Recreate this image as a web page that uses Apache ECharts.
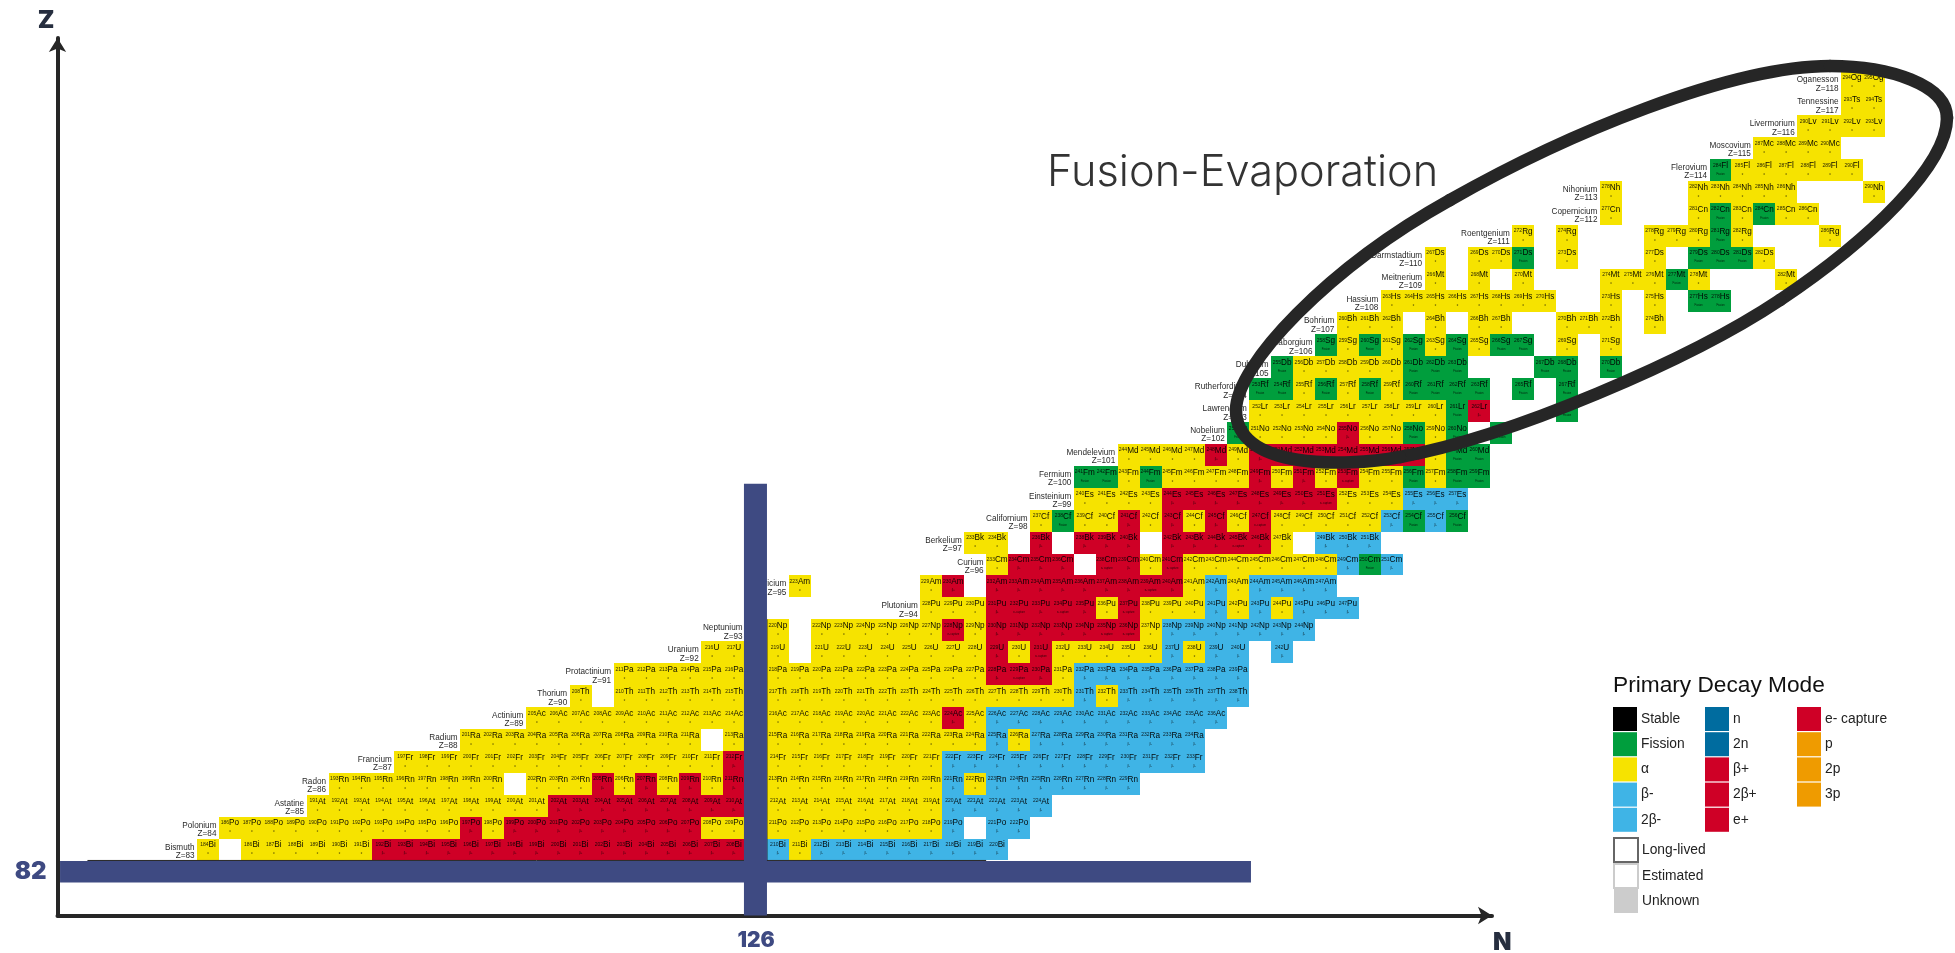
<!DOCTYPE html>
<html><head><meta charset="utf-8">
<style>html,body{margin:0;padding:0;background:#fff}#c{width:1955px;height:953px}</style>
<script src="https://cdn.jsdelivr.net/npm/echarts@6/dist/echarts.min.js"></script>
</head><body><div id="c"></div>
<script>
// ---- data ----
const protonNumbers = [83,84,85,86,87,88,89,90,91,92,93,94,95,96,97,98,99,100,101,102,103,104,105,106,107,108,109,110,111,112,113,114,115,116,117,118];
const elementNames = ['Bismuth','Polonium','Astatine','Radon','Francium','Radium','Actinium','Thorium','Protactinium','Uranium','Neptunium','Plutonium','Americium','Curium','Berkelium','Californium','Einsteinium','Fermium','Mendelevium','Nobelium','Lawrencium','Rutherfordium','Dubnium','Seaborgium','Bohrium','Hassium','Meitnerium','Darmstadtium','Roentgenium','Copernicium','Nihonium','Flerovium','Moscovium','Livermorium','Tennessine','Oganesson'];
const elementSymbols = ['Bi','Po','At','Rn','Fr','Ra','Ac','Th','Pa','U','Np','Pu','Am','Cm','Bk','Cf','Es','Fm','Md','No','Lr','Rf','Db','Sg','Bh','Hs','Mt','Ds','Rg','Cn','Nh','Fl','Mc','Lv','Ts','Og'];
const firstMass = [184,186,191,193,197,201,205,208,211,216,219,228,223,233,233,237,240,241,244,250,252,253,255,258,260,263,266,267,272,277,278,284,287,290,293,294];
// run-length decay runs, one per element, from firstMass upward:
// a=alpha f=fission p=beta+ e=e- capture m=beta- .=no cell
const decayRuns = [
 'a . a6 p17 . m a m9','a11 p a p9 a2 . a8 m . m2','a11 p9 . a8 m5','a8 . a3 p a p a p a p . a8 m a m7','a15 p . a8 m12','a11 . a . a10 m a m8','a10 . a8 p a m11','a . a6 . a14 m a m6','a6 . a10 p e p a m8','a2 . a . a8 p a e a5 m a m2 . m','. a . a6 e a p5 e2 a m7','a3 p e p e p a e a3 m a m a m3','a .5 a p . p7 e p a m a m4','a p3 . e p a e a7 m f m','a2 . p . p3 . p3 e p a . m3','a f a2 p a p a p a e a5 m f m f','a4 p7 e a3 m3','f2 a f a4 p a p a e a2 f a f2','a4 p a p7 e a f2','f a4 p a2 f a f . f','a9 f p .3 f','f2 a f a f a f4 . f . f','f a5 f3 .3 f2 . f','f a f a f a f a f2 . a . a','a3 . a . a2 .2 a3 . a','a8 .2 a . a . f2','a . a . a .3 a3 f a .3 a','a . a2 f . a .3 a . f3 a','a . a .3 a3 f a .3 a','a .3 a f a f a2','a .3 a5 .3 a','f a6','a4','a4','a2','a2'
];
const legendColumn1 = ['Stable','Fission','α','β-','2β-'];
const legendColumn2 = ['n','2n','β+','2β+','e+'];
const legendColumn3 = ['e- capture','p','2p','3p'];
const legendColumn4 = ['Long-lived','Estimated','Unknown'];
const modeColors = {'Stable':'#000000','Fission':'#009e3d','α':'#f6e300','β-':'#3fb4e6','2β-':'#3fb4e6','n':'#006c9f','2n':'#006c9f','β+':'#cf0026','2β+':'#cf0026','e+':'#cf0026','e- capture':'#cf0026','p':'#ef9b00','2p':'#ef9b00','3p':'#ef9b00','Long-lived':'#ffffff','Estimated':'#ffffff','Unknown':'#cccccc'};
const runCodes = {a:'α',f:'Fission',p:'β+',e:'e- capture',m:'β-'};
const magicN = 126, magicZ = 82;
const bandN = [125.45,126.5], bandNZ = [79.99,99.68];
const bandZ = [81.5,82.48], bandZN = [94.25,148.58];
const cellsByMode = {};
[].concat(legendColumn1,legendColumn2,legendColumn3,legendColumn4).forEach(m=>cellsByMode[m]=[]);
protonNumbers.forEach((Z,i)=>{
  let A = firstMass[i];
  decayRuns[i].split(' ').forEach(tok=>{
    const c = tok[0], n = tok.length>1 ? +tok.slice(1) : 1;
    for(let k=0;k<n;k++,A++){
      if(c!=='.') cellsByMode[runCodes[c]].push([A-Z,Z,A,elementSymbols[i],runCodes[c]]);
    }
  });
});
const measureCtx = document.createElement('canvas').getContext('2d');
function textWidth(t,size){ measureCtx.font = size+'px "Liberation Sans"'; return measureCtx.measureText(t).width; }
const massSize = 5, symbolSize = 8.2;
function renderCell(color){
  return function(params,api){
    const n=api.value(0), z=api.value(1), a=api.value(2);
    const row=cellsByMode[params.seriesName][params.dataIndex];
    const p0=api.coord([n-0.5,z+0.5]), p1=api.coord([n+0.5,z-0.5]);
    const x0=Math.round(p0[0]),x1=Math.round(p1[0]),y0=Math.round(p0[1]),y1=Math.round(p1[1]);
    const cx=(p0[0]+p1[0])/2, h=p1[1]-p0[1];
    const mw=textWidth(String(a),massSize), sw=textWidth(row[3],symbolSize);
    const jx=cx-(mw+sw)/2+mw;
    const ty=p0[1]+h*0.3;
    return {type:'group',children:[
      {type:'rect',shape:{x:x0,y:y0,width:x1-x0,height:y1-y0},style:{fill:color}},
      {type:'text',style:{text:String(a),x:jx,y:ty-0.4,align:'right',verticalAlign:'middle',fontSize:massSize,fontFamily:'Liberation Sans',fill:'rgba(0,0,0,.85)'}},
      {type:'text',style:{text:row[3],x:jx,y:ty,align:'left',verticalAlign:'middle',fontSize:symbolSize,fontFamily:'Liberation Sans',fill:'rgba(0,0,0,.95)'}},
      {type:'text',style:{text:row[4],x:cx,y:p0[1]+h*0.69,align:'center',verticalAlign:'middle',fontSize:2.6,fontFamily:'Liberation Sans',fill:'rgba(0,0,0,.8)'}}
    ]};
  };
}
const modeSeries = Object.keys(cellsByMode).map(name=>({
  name,type:'custom',z:2,silent:true,itemStyle:{color:modeColors[name]},data:cellsByMode[name],encode:{x:0,y:1},renderItem:renderCell(modeColors[name])
}));
const labelData = protonNumbers.map((Z,i)=>[firstMass[i]-Z,Z,elementNames[i]]);
const labelSeries = {
  type:'custom',z:3,silent:true,data:labelData,encode:{x:0,y:1},
  renderItem:(params,api)=>{
    const p=api.coord([api.value(0)-0.5,api.value(1)]);
    const name=labelData[params.dataIndex][2];
    return {type:'text',style:{text:name+'\nZ='+api.value(1),x:p[0]-2.5,y:p[1]+2,align:'right',verticalAlign:'middle',
      fontSize:8.2,lineHeight:8.4,fontFamily:'Liberation Sans',fill:'#2a2a2a'}};
  }
};
const outline1 = {type:'line',z:4,silent:true,symbol:'none',lineStyle:{color:'#222',width:1},data:[[95.5,82.5],[136.5,82.5]]};
const outline2 = {type:'line',z:4,silent:true,symbol:'none',lineStyle:{color:'#222',width:1},data:[[126.5,82.5],[126.5,93.5]]};
const bandData = [[bandN[0],bandNZ[1],bandN[1],bandNZ[0]],[bandZN[0],bandZ[1],bandZN[1],bandZ[0]]];
const bandSeries = {
  type:'custom',z:5,silent:true,data:bandData,encode:{x:[0,2],y:[1,3]},
  renderItem:(params,api)=>{
    const a=api.coord([api.value(0),api.value(1)]),b=api.coord([api.value(2),api.value(3)]);
    return {type:'rect',shape:{x:a[0],y:a[1],width:b[0]-a[0],height:b[1]-a[1]},style:{fill:'#3e4a82'}};
  }
};
const ringSegments=[
 [1236,410,1236,365,1328,268,1450,200],
 [1450,200,1566,134,1730,66,1830,66],
 [1830,66,1890,66,1947,85,1947,118],
 [1947,118,1947,165,1870,240,1780,300],
 [1780,300,1690,360,1510,437,1400,457],
 [1400,457,1345,467,1236,470,1236,410]
];
function legendOf(list,left,top,gap){
  return {show:true,orient:'vertical',left,top,icon:'rect',itemWidth:24,itemHeight:24,itemGap:gap,selectedMode:false,padding:0,
    data:list.map(name=>{
      const d={name};
      if(name==='Long-lived') d.itemStyle={color:'#fff',borderColor:'#666',borderWidth:2};
      else if(name==='Estimated') d.itemStyle={color:'#fff',borderColor:'#ccc',borderWidth:2};
      return d;
    }),
    textStyle:{fontFamily:'Liberation Sans',fontSize:13.8,color:'#222',padding:[0,0,0,-1]}};
}
const chart = echarts.init(document.getElementById('c'),null,{renderer:'canvas'});
chart.setOption({
  animation:false,
  backgroundColor:'#fff',
  title:[
    {text:'Fusion-Evaporation',left:1047,top:151,padding:0,textStyle:{fontFamily:'Inter',fontWeight:300,fontSize:43.3,color:'#333'}},
    {text:'Primary Decay Mode',left:1613,top:674,padding:0,textStyle:{fontFamily:'Liberation Sans',fontWeight:'normal',fontSize:22.7,color:'#111'}}
  ],
  legend:[legendOf(legendColumn1,1613,707,1.2),legendOf(legendColumn2,1705,707,1.2),legendOf(legendColumn3,1797,707,1.2),legendOf(legendColumn4,1613,837,0)],
  grid:{left:57.5,right:463,top:38,bottom:37.5,containLabel:false,outerBoundsMode:'none'},
  xAxis:{type:'value',min:94.134,max:159.576,name:'N',nameLocation:'end',nameGap:1,
    nameTextStyle:{fontFamily:'Inter',fontWeight:900,fontSize:24,color:'#262e3f',verticalAlign:'top',padding:[15,0,0,0]},
    axisLine:{onZero:false,symbol:['none','arrow'],symbolSize:[13,14],lineStyle:{color:'#262626',width:4}},
    axisTick:{show:false},splitLine:{show:false},
    axisLabel:{customValues:[magicN],margin:15,fontFamily:'Inter',fontWeight:900,fontSize:21,color:'#3e4a82'}},
  yAxis:{type:'value',min:79.989,max:120.018,name:'Z',nameLocation:'end',nameGap:5,
    nameTextStyle:{fontFamily:'Inter',fontWeight:900,fontSize:24,color:'#262e3f',padding:[0,23,0,0]},
    axisLine:{onZero:false,symbol:['none','arrow'],symbolSize:[13,14],lineStyle:{color:'#262626',width:4}},
    axisTick:{show:false},splitLine:{show:false},
    axisLabel:{customValues:[magicZ],margin:11,fontFamily:'Inter',fontWeight:900,fontSize:24,color:'#3e4a82'}},
  graphic:ringSegments.map(s=>({type:'bezierCurve',z:100,silent:true,
    shape:{x1:s[0],y1:s[1],cpx1:s[2],cpy1:s[3],cpx2:s[4],cpy2:s[5],x2:s[6],y2:s[7]},
    style:{fill:null,stroke:'#262626',lineWidth:12.5,lineCap:'round'}})),
  series:[...modeSeries,labelSeries,outline1,outline2,bandSeries]
});
</script></body></html>
